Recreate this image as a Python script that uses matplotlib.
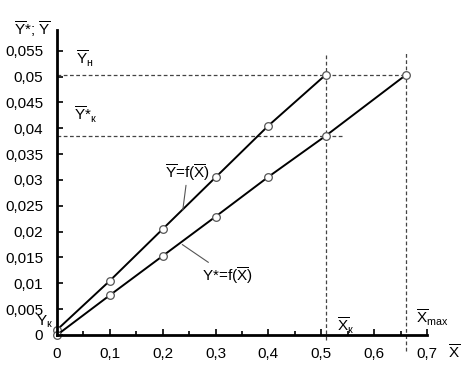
import matplotlib

matplotlib.use("Agg")
import matplotlib.pyplot as plt
from matplotlib.ticker import FixedLocator, FuncFormatter, MultipleLocator

plt.rcParams["font.family"] = ["Liberation Sans", "DejaVu Sans"]
plt.rcParams["mathtext.fontset"] = "custom"
plt.rcParams["mathtext.rm"] = "Liberation Sans"
plt.rcParams["mathtext.it"] = "Liberation Sans"

# data
x_upper = [0.0, 0.1, 0.2, 0.3, 0.4, 0.508]
y_upper = [0.001, 0.0105, 0.0205, 0.0305, 0.0405, 0.0503]
x_lower = [0.0, 0.1, 0.2, 0.3, 0.4, 0.508, 0.66]
y_lower = [0.0, 0.0077, 0.0153, 0.0229, 0.0306, 0.0385, 0.0503]
x_k, x_max = 0.508, 0.66
y_n, y_star_k = 0.0503, 0.0385
x_ticks = [0, 0.1, 0.2, 0.3, 0.4, 0.5, 0.6, 0.7]
y_ticks = [0, 0.005, 0.01, 0.015, 0.02, 0.025, 0.03, 0.035, 0.04, 0.045, 0.05, 0.055]

OB = r"$\overline{\mathrm{%s}}$"
FS = 11


def comma(v, _pos):
    s = f"{v:.3f}".rstrip("0").rstrip(".")
    return s.replace(".", ",")


fig = plt.figure(figsize=(4.66, 3.75), dpi=100)
ax = fig.add_axes([57 / 466, 40 / 375, (427 - 57) / 466, (335 - 30) / 375])
ax.set_xlim(0, 0.7)
ax.set_ylim(0, 0.059)

# guide lines
dash = dict(color="#444", lw=0.9, ls=(0, (3, 2)), clip_on=False)
ax.plot([0, x_max], [y_n, y_n], **dash)
ax.plot([0, 0.54], [y_star_k, y_star_k], **dash)
ax.plot([x_k, x_k], [-0.001, 0.0545], **dash)
ax.plot([x_max, x_max], [-0.003, 0.0545], **dash)

mk = dict(marker="o", ms=5.5, mfc="white", mec="#555", mew=0.9, color="black", lw=1.4, clip_on=False)
ax.plot(x_upper, y_upper, **mk)
ax.plot(x_lower, y_lower, **mk)

for side in ("top", "right"):
    ax.spines[side].set_visible(False)
ax.spines["left"].set_linewidth(2)
ax.spines["bottom"].set_linewidth(2)

ax.xaxis.set_major_locator(FixedLocator(x_ticks))
ax.xaxis.set_minor_locator(MultipleLocator(0.05))
ax.yaxis.set_major_locator(FixedLocator(y_ticks))
ax.xaxis.set_major_formatter(FuncFormatter(comma))
ax.yaxis.set_major_formatter(FuncFormatter(comma))
ax.tick_params(axis="x", direction="in", length=4, width=1.2, labelsize=FS, pad=9)
ax.tick_params(axis="x", which="minor", direction="in", length=3, width=1.2)
ax.tick_params(axis="y", direction="in", length=4, width=1.2, labelsize=FS, pad=10)

# axis labels
fig.text(14 / 466, 1 - 29 / 375, OB % "Y" + "*; " + OB % "Y", fontsize=FS, va="center")
fig.text(448 / 466, 1 - 353 / 375, OB % "X", fontsize=FS, va="center")

# annotation labels
ax.annotate(OB % "Y" + r"$_\mathregular{н}$", xy=(0.035, 0.0535), fontsize=FS, va="center")
ax.annotate(OB % "Y" + "*" + r"$_\mathregular{к}$", xy=(0.032, 0.0425), fontsize=FS, va="center")
ax.annotate(r"Y$_\mathregular{к}$", xy=(-0.04, 0.0025), fontsize=FS, va="center", annotation_clip=False)
ax.annotate(OB % "X" + r"$_\mathregular{к}$", xy=(0.53, 0.0018), fontsize=FS, va="center")
ax.annotate(OB % "X" + r"$_\mathregular{max}$", xy=(0.68, 0.0033), fontsize=FS, va="center", annotation_clip=False)

ax.annotate(OB % "Y" + "=f(" + OB % "X" + ")", xy=(0.238, 0.0242), xytext=(0.205, 0.0315),
            fontsize=FS, va="center",
            arrowprops=dict(arrowstyle="-", color="#555", lw=0.8, shrinkA=0, shrinkB=0))
ax.annotate("Y*=f(" + OB % "X" + ")", xy=(0.237, 0.0175), xytext=(0.275, 0.0115),
            fontsize=FS, va="center",
            arrowprops=dict(arrowstyle="-", color="#555", lw=0.8, shrinkA=0, shrinkB=0))

fig.savefig("out.png", dpi=100)
